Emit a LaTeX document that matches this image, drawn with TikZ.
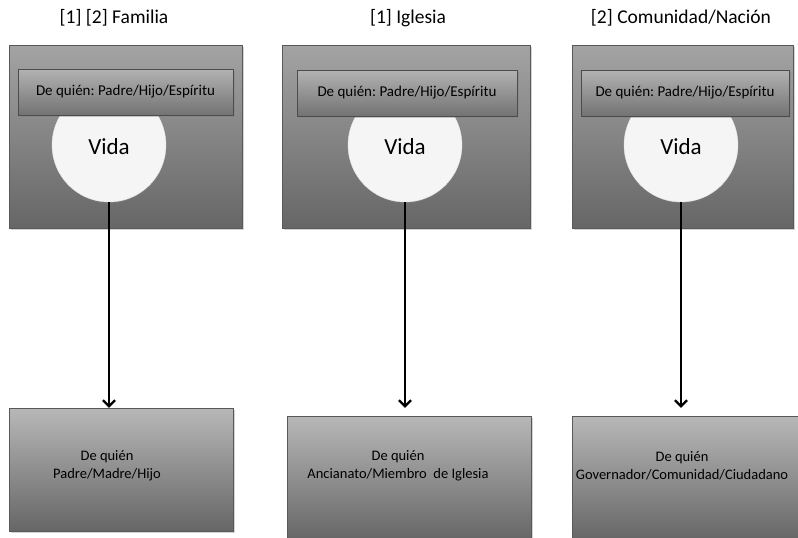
\documentclass[tikz,border=0pt]{standalone}
\usepackage{fontspec}
\setmainfont{Carlito}
\usetikzlibrary{shadows,arrows.meta}
\begin{document}
\begin{tikzpicture}[x=1pt,y=-1pt,
  topbox/.style={draw=gray!70!black,line width=0.4pt,top color=black!36,bottom color=black!60,
    drop shadow={shadow xshift=2pt,shadow yshift=-2pt,opacity=0.35},minimum height=183pt,inner sep=0pt},
  hdr/.style={draw=gray!60!black,line width=0.4pt,top color=black!30,bottom color=black!55,
    drop shadow={shadow xshift=1.5pt,shadow yshift=-2pt,opacity=0.4},minimum height=46pt,inner sep=0pt,
    font=\fontsize{15}{18}\selectfont},
  life/.style={circle,fill=black!4,draw=black!10,minimum size=114pt,inner sep=0pt,
    drop shadow={shadow xshift=1pt,shadow yshift=-1.5pt,opacity=0.3}},
  vtxt/.style={font=\fontsize{23}{27}\selectfont},
  lowbox/.style={draw=gray!70!black,line width=0.4pt,top color=black!28,bottom color=black!60,
    drop shadow={shadow xshift=2pt,shadow yshift=-2pt,opacity=0.35},inner sep=0pt},
  title/.style={font=\fontsize{19.5}{23}\selectfont},
  lowtxt/.style={align=center,font=\fontsize{14.5}{18}\selectfont},
  conn/.style={line width=2.5pt,-{Straight Barb[length=6pt,width=12pt,line width=2.3pt]}}
]
\useasboundingbox (0,0) rectangle (798,538);
% titles
\node[title] (ti1) at (114,18) {[1] [2] Familia};
\node[title] (ti2) at (408,18) {[1] Iglesia};
\node[title] (ti3) at (681,18) {[2] Comunidad/Nación};
% top boxes
\node[topbox,minimum width=233pt] (t1) at (125.5,136.5) {};
\node[topbox,minimum width=248pt] (t2) at (406,136.5) {};
\node[topbox,minimum width=221pt] (t3) at (682.5,136.5) {};
% circles
\node[life] (v1) at (109,145) {};
\node[life] (v2) at (405,145) {};
\node[life] (v3) at (681,145) {};
\node[vtxt] (w1) at (109,147) {Vida};
\node[vtxt] (w2) at (405,147) {Vida};
\node[vtxt] (w3) at (681,147) {Vida};
% headers
\node[hdr,minimum width=215pt] (h1) at (125.5,92) {De quién:\ Padre/Hijo/Espíritu};
\node[hdr,minimum width=220pt] (h2) at (407,93) {De quién:\ Padre/Hijo/Espíritu};
\node[hdr,minimum width=208pt] (h3) at (685,93) {De quién:\ Padre/Hijo/Espíritu};
% bottom boxes
\node[lowbox,minimum width=224pt,minimum height=123pt] (b1) at (121,469.5) {};
\node[lowbox,minimum width=244pt,minimum height=124pt] (b2) at (409,478) {};
\node[lowbox,minimum width=226pt,minimum height=124pt] (b3) at (685,478) {};
\node[lowtxt] (l1) at (107,466) {De quién\\Padre/Madre/Hijo};
\node[lowtxt] (l2) at (398,466) {De quién\\Ancianato/Miembro\ \ de Iglesia};
\node[lowtxt] (l3) at (682,466) {De quién\\Governador/Comunidad/Ciudadano};
% connectors
\draw[conn] (v1.south) -- (v1.south |- b1.north);
\draw[conn,shorten >=8pt] (v2.south) -- (v2.south |- b2.north);
\draw[conn,shorten >=8pt] (v3.south) -- (v3.south |- b3.north);
\end{tikzpicture}
\end{document}
